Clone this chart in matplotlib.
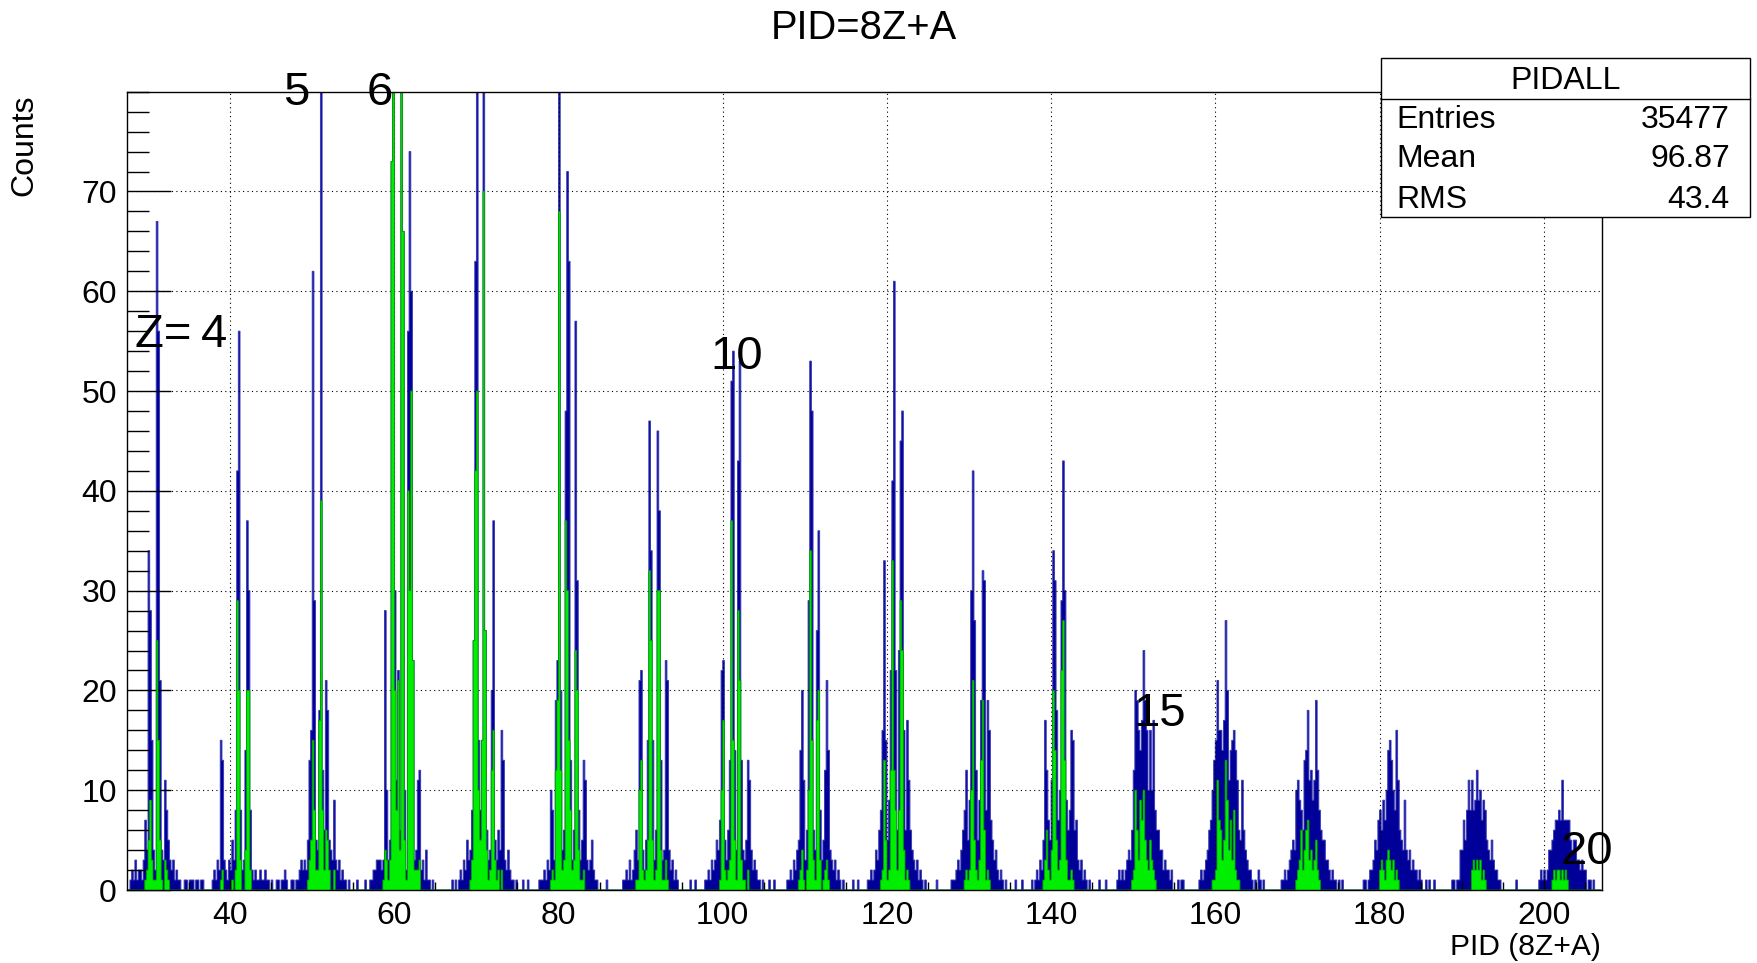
import numpy as np
import matplotlib
matplotlib.use("Agg")
import matplotlib.pyplot as plt
from matplotlib.patches import Rectangle
from matplotlib.ticker import MultipleLocator, FixedLocator

plt.rcParams['font.family'] = ['Liberation Sans', 'DejaVu Sans']

# ---------------------------------------------------------------------------
# PID spectrum, 0.2-wide bins. Each block covers one element band (Z) and
# starts at the given left bin edge. "blue" = all events, "green" = gated.
# ---------------------------------------------------------------------------
BIN_WIDTH = 0.2

z03_start = 27.4
z03_blue = [0, 0, 1, 2, 1, 3, 1, 2, 2, 1, 3, 7, 4, 34, 28, 15, 4, 2, 67, 56,
            21, 4, 3, 11, 8, 5, 3, 2, 3, 1, 2, 1, 1, 0, 0, 1, 1, 0, 1, 1]
z03_green = [0, 0, 0, 0, 0, 0, 0, 0, 0, 0, 0, 1, 2, 5, 9, 3, 1, 1, 25, 15,
             5, 1, 0, 3, 2, 1, 0, 0, 0, 0, 0, 0, 0, 0, 0, 0, 0, 0, 0, 0]

z04_start = 35.4
z04_blue = [1, 0, 1, 1, 0, 1, 1, 0, 0, 0, 0, 0, 1, 2, 1, 3, 2, 15, 13, 3,
            2, 1, 3, 2, 5, 3, 8, 42, 56, 8, 2, 3, 14, 37, 30, 8, 2, 1, 2, 1,
            1, 2, 1, 1, 2, 1, 1, 0, 1, 0]
z04_green = [0, 0, 0, 0, 0, 0, 0, 0, 0, 0, 0, 0, 0, 0, 0, 0, 0, 1, 2, 0,
             0, 0, 0, 0, 1, 0, 2, 29, 20, 3, 0, 0, 4, 20, 20, 2, 0, 0, 0, 0,
             0, 0, 0, 0, 0, 0, 0, 0, 0, 0]

z05_start = 45.4
z05_blue = [0, 1, 1, 0, 1, 1, 2, 1, 0, 0, 1, 1, 0, 1, 1, 2, 3, 2, 3, 2,
            5, 13, 16, 62, 29, 5, 4, 18, 95, 12, 6, 21, 18, 5, 4, 3, 9, 3, 2, 3,
            1, 2, 1, 1, 0, 1, 0, 0, 0, 0]
z05_green = [0, 0, 0, 0, 0, 0, 0, 0, 0, 0, 0, 0, 0, 0, 0, 0, 0, 0, 0, 0,
             1, 3, 5, 15, 8, 2, 2, 17, 39, 8, 2, 6, 5, 2, 0, 0, 2, 0, 0, 0,
             0, 0, 0, 0, 0, 0, 0, 0, 0, 0]

z06_start = 55.4
z06_blue = [1, 0, 0, 0, 0, 1, 0, 0, 1, 1, 2, 2, 3, 3, 3, 2, 3, 28, 10, 3,
            5, 73, 95, 30, 11, 22, 6, 95, 66, 10, 2, 56, 74, 60, 23, 3, 4, 11, 12, 2,
            3, 1, 4, 1, 1, 0, 1, 0, 0, 0]
z06_green = [0, 0, 0, 0, 0, 0, 0, 0, 0, 0, 0, 0, 0, 0, 0, 0, 1, 4, 3, 1,
             3, 73, 82, 20, 8, 21, 4, 85, 66, 5, 1, 40, 30, 50, 23, 2, 2, 2, 3, 0,
             0, 0, 0, 0, 0, 0, 0, 0, 0, 0]

z07_start = 65.4
z07_blue = [0, 0, 0, 0, 0, 0, 0, 0, 1, 0, 1, 0, 1, 2, 1, 3, 2, 5, 3, 4,
            8, 25, 63, 95, 15, 8, 15, 95, 26, 6, 3, 4, 20, 37, 5, 3, 6, 4, 16, 13,
            3, 2, 4, 2, 1, 1, 0, 1, 0, 0]
z07_green = [0, 0, 0, 0, 0, 0, 0, 0, 0, 0, 0, 0, 0, 0, 0, 0, 0, 0, 0, 1,
             3, 25, 42, 50, 10, 5, 15, 70, 26, 4, 1, 2, 12, 16, 3, 1, 2, 0, 2, 0,
             0, 0, 0, 0, 0, 0, 0, 0, 0, 0]

z08_start = 75.4
z08_blue = [0, 1, 0, 0, 1, 0, 0, 0, 0, 0, 0, 1, 1, 1, 2, 1, 3, 2, 10, 8,
            3, 19, 23, 95, 20, 4, 6, 48, 72, 63, 13, 3, 6, 57, 31, 8, 3, 5, 13, 11,
            3, 2, 3, 5, 2, 1, 1, 0, 0, 0]
z08_green = [0, 0, 0, 0, 0, 0, 0, 0, 0, 0, 0, 0, 0, 0, 0, 0, 0, 0, 1, 2,
             1, 12, 19, 68, 12, 2, 3, 37, 30, 15, 8, 2, 3, 24, 20, 4, 1, 1, 2, 0,
             0, 0, 0, 0, 0, 0, 0, 0, 0, 0]

z09_start = 85.4
z09_blue = [0, 0, 1, 0, 0, 0, 0, 0, 0, 0, 0, 0, 1, 1, 2, 1, 3, 1, 2, 4,
            6, 3, 21, 22, 4, 2, 5, 15, 47, 34, 15, 3, 6, 46, 38, 13, 3, 4, 23, 21,
            4, 2, 3, 1, 2, 1, 0, 0, 0, 0]
z09_green = [0, 0, 0, 0, 0, 0, 0, 0, 0, 0, 0, 0, 0, 0, 0, 0, 0, 0, 0, 0,
             1, 1, 10, 13, 2, 1, 2, 5, 32, 25, 5, 1, 2, 30, 30, 4, 1, 1, 3, 1,
             0, 0, 0, 0, 0, 0, 0, 0, 0, 0]

z10_start = 95.4
z10_blue = [0, 0, 0, 1, 0, 0, 1, 0, 0, 0, 0, 0, 1, 1, 2, 1, 3, 2, 3, 5,
            4, 7, 22, 23, 5, 3, 6, 13, 51, 54, 14, 4, 43, 53, 13, 4, 3, 5, 13, 11,
            4, 2, 3, 2, 1, 1, 0, 1, 0, 0]
z10_green = [0, 0, 0, 0, 0, 0, 0, 0, 0, 0, 0, 0, 0, 0, 0, 0, 0, 0, 0, 0,
             0, 1, 10, 17, 2, 1, 2, 3, 37, 15, 5, 1, 28, 21, 3, 1, 1, 0, 2, 0,
             0, 0, 0, 0, 0, 0, 0, 0, 0, 0]

z11_start = 105.4
z11_blue = [0, 1, 0, 0, 1, 0, 0, 0, 0, 0, 0, 0, 1, 1, 2, 1, 3, 2, 4, 5,
            14, 20, 11, 3, 6, 29, 53, 48, 6, 4, 26, 36, 8, 3, 5, 12, 21, 14, 4, 3,
            2, 3, 1, 2, 1, 0, 1, 0, 0, 0]
z11_green = [0, 0, 0, 0, 0, 0, 0, 0, 0, 0, 0, 0, 0, 0, 0, 0, 0, 0, 0, 1,
             2, 4, 1, 0, 2, 10, 34, 15, 3, 1, 17, 20, 3, 0, 1, 2, 3, 1, 0, 0,
             0, 0, 0, 0, 0, 0, 0, 0, 0, 0]

z12_start = 115.4
z12_blue = [0, 0, 1, 0, 0, 1, 0, 0, 0, 0, 0, 1, 1, 2, 1, 2, 4, 3, 6, 8,
            16, 33, 15, 5, 9, 22, 41, 61, 22, 6, 24, 45, 48, 16, 6, 17, 11, 6, 4, 3,
            2, 3, 1, 2, 1, 0, 1, 0, 0, 0]
z12_green = [0, 0, 0, 0, 0, 0, 0, 0, 0, 0, 0, 0, 0, 0, 0, 0, 0, 0, 0, 1,
             2, 13, 5, 1, 2, 12, 33, 12, 8, 2, 8, 29, 24, 4, 1, 2, 1, 0, 0, 0,
             0, 0, 0, 0, 0, 0, 0, 0, 0, 0]

z13_start = 125.4
z13_blue = [0, 0, 0, 1, 0, 0, 0, 0, 0, 0, 0, 0, 1, 1, 1, 2, 3, 2, 4, 6,
            8, 12, 5, 9, 30, 42, 27, 12, 5, 9, 19, 32, 31, 8, 19, 16, 7, 5, 3, 4,
            2, 1, 2, 1, 0, 1, 0, 0, 0, 0]
z13_green = [0, 0, 0, 0, 0, 0, 0, 0, 0, 0, 0, 0, 0, 0, 0, 0, 0, 0, 0, 0,
             1, 2, 1, 2, 10, 21, 5, 2, 1, 3, 13, 19, 6, 1, 2, 1, 0, 0, 0, 0,
             0, 0, 0, 0, 0, 0, 0, 0, 0, 0]

z14_start = 135.4
z14_blue = [0, 1, 0, 0, 0, 1, 0, 0, 0, 0, 0, 1, 0, 1, 2, 1, 3, 2, 5, 17,
            12, 7, 5, 11, 34, 31, 18, 7, 10, 29, 43, 30, 9, 6, 8, 16, 15, 6, 7, 3,
            2, 3, 1, 2, 1, 0, 1, 0, 0, 0]
z14_green = [0, 0, 0, 0, 0, 0, 0, 0, 0, 0, 0, 0, 0, 0, 0, 0, 0, 0, 1, 3,
             6, 2, 1, 4, 20, 14, 5, 2, 3, 22, 27, 13, 3, 1, 1, 2, 1, 0, 0, 0,
             0, 0, 0, 0, 0, 0, 0, 0, 0, 0]

z15_start = 145.4
z15_blue = [0, 0, 1, 0, 0, 0, 1, 0, 0, 0, 0, 0, 0, 1, 2, 1, 2, 1, 2, 3,
            4, 3, 6, 12, 20, 19, 16, 14, 17, 24, 19, 16, 10, 16, 10, 17, 8, 6, 6, 4,
            4, 2, 3, 2, 2, 1, 2, 0, 0, 0]
z15_green = [0, 0, 0, 0, 0, 0, 0, 0, 0, 0, 0, 0, 0, 0, 0, 0, 0, 0, 0, 0,
             0, 0, 1, 2, 10, 6, 3, 9, 7, 10, 5, 3, 2, 5, 3, 2, 1, 0, 0, 0,
             0, 0, 0, 0, 0, 0, 0, 0, 0, 0]

z16_start = 155.4
z16_blue = [1, 0, 1, 1, 0, 0, 0, 0, 0, 0, 0, 0, 0, 1, 2, 1, 2, 3, 4, 6,
            7, 10, 13, 15, 21, 16, 16, 14, 17, 27, 20, 11, 14, 15, 16, 14, 11, 6, 5, 11,
            6, 4, 3, 2, 2, 1, 0, 1, 0, 2]
z16_green = [0, 0, 0, 0, 0, 0, 0, 0, 0, 0, 0, 0, 0, 0, 0, 0, 0, 0, 0, 0,
             0, 1, 1, 2, 11, 7, 6, 3, 5, 13, 9, 4, 7, 3, 8, 2, 1, 1, 0, 0,
             0, 0, 0, 0, 0, 0, 0, 0, 0, 0]

z17_start = 165.4
z17_blue = [1, 0, 1, 0, 0, 0, 0, 0, 0, 0, 0, 0, 0, 1, 1, 2, 1, 2, 3, 4,
            5, 4, 10, 11, 9, 8, 6, 13, 14, 18, 11, 12, 9, 11, 19, 12, 8, 6, 5, 5,
            3, 3, 2, 1, 2, 1, 1, 0, 1, 0]
z17_green = [0, 0, 0, 0, 0, 0, 0, 0, 0, 0, 0, 0, 0, 0, 0, 0, 0, 0, 0, 0,
             0, 0, 1, 2, 3, 6, 2, 4, 6, 7, 3, 4, 2, 3, 5, 2, 1, 0, 0, 0,
             0, 0, 0, 0, 0, 0, 0, 0, 0, 0]

z18_start = 175.4
z18_blue = [1, 0, 0, 0, 0, 0, 0, 0, 0, 0, 0, 0, 0, 1, 1, 0, 1, 2, 2, 3,
            5, 4, 7, 8, 6, 9, 7, 10, 14, 15, 13, 10, 8, 16, 11, 6, 5, 4, 9, 4,
            3, 4, 2, 3, 2, 2, 1, 2, 1, 0]
z18_green = [0, 0, 0, 0, 0, 0, 0, 0, 0, 0, 0, 0, 0, 0, 0, 0, 0, 0, 0, 0,
             0, 0, 0, 2, 3, 2, 1, 3, 4, 3, 2, 3, 1, 2, 1, 0, 0, 0, 0, 0,
             0, 0, 0, 0, 0, 0, 0, 0, 0, 0]

z19_start = 185.4
z19_blue = [0, 1, 0, 1, 0, 0, 1, 0, 0, 0, 0, 0, 0, 0, 0, 0, 0, 1, 1, 0,
            1, 1, 4, 4, 7, 5, 8, 11, 8, 11, 8, 9, 12, 9, 10, 7, 9, 8, 5, 4,
            3, 5, 3, 2, 2, 1, 1, 0, 0, 0]
z19_green = [0, 0, 0, 0, 0, 0, 0, 0, 0, 0, 0, 0, 0, 0, 0, 0, 0, 0, 0, 0,
             0, 0, 0, 0, 0, 0, 0, 0, 0, 2, 3, 2, 3, 2, 3, 1, 2, 1, 0, 0,
             0, 0, 0, 0, 0, 0, 0, 0, 0, 0]

z20_start = 195.4
z20_blue = [0, 0, 0, 0, 0, 0, 1, 0, 0, 0, 0, 0, 0, 0, 0, 0, 0, 0, 0, 0,
            1, 2, 1, 2, 1, 2, 4, 4, 5, 6, 7, 7, 8, 7, 11, 7, 7, 7, 7, 5,
            4, 5, 5, 3, 3, 2, 3, 2, 2, 0, 1, 1, 0, 1, 0, 0, 0, 0]
z20_green = [0, 0, 0, 0, 0, 0, 0, 0, 0, 0, 0, 0, 0, 0, 0, 0, 0, 0, 0, 0,
             0, 0, 0, 0, 0, 0, 0, 0, 1, 2, 1, 2, 2, 1, 2, 1, 2, 1, 0, 0,
             0, 0, 0, 0, 0, 0, 0, 0, 0, 0, 0, 0, 0, 0, 0, 0, 0, 0]

blocks = [
    (z03_start, z03_blue, z03_green), (z04_start, z04_blue, z04_green),
    (z05_start, z05_blue, z05_green), (z06_start, z06_blue, z06_green),
    (z07_start, z07_blue, z07_green), (z08_start, z08_blue, z08_green),
    (z09_start, z09_blue, z09_green), (z10_start, z10_blue, z10_green),
    (z11_start, z11_blue, z11_green), (z12_start, z12_blue, z12_green),
    (z13_start, z13_blue, z13_green), (z14_start, z14_blue, z14_green),
    (z15_start, z15_blue, z15_green), (z16_start, z16_blue, z16_green),
    (z17_start, z17_blue, z17_green), (z18_start, z18_blue, z18_green),
    (z19_start, z19_blue, z19_green), (z20_start, z20_blue, z20_green),
]

# Element labels (left / baseline anchored, data coordinates)
z_labels = ["Z=\u20094", "5", "6", "10", "15", "20"]
z_label_x = [28.4, 46.5, 56.6, 98.5, 150.0, 202.1]
z_label_y = [54.4, 78.7, 78.7, 52.2, 16.4, 2.6]

# Statistics box contents
stat_title = "PIDALL"
stat_names = ["Entries", "Mean", "RMS"]
stat_values = ["35477", "96.87", "43.4"]

x_range = (27.4, 207.1)
y_range = (0, 80)
y_major_ticks = [0, 10, 20, 30, 40, 50, 60, 70]

# ---------------------------------------------------------------------------
left_edges = []
blue_counts = []
green_counts = []
for start, b, g in blocks:
    left_edges.append(start + BIN_WIDTH * np.arange(len(b)))
    blue_counts.extend(b)
    green_counts.extend(g)
edges = np.concatenate(left_edges)
edges = np.append(edges, edges[-1] + BIN_WIDTH)
blue_counts = np.array(blue_counts, dtype=float)
green_counts = np.array(green_counts, dtype=float)

W, H = 1758, 963
fig = plt.figure(figsize=(W / 100, H / 100), dpi=100)
ax_left, ax_right, ax_top, ax_bottom = 126.7, 1602.0, 91.7, 890.0
ax = fig.add_axes([ax_left / W, 1 - ax_bottom / H,
                   (ax_right - ax_left) / W, (ax_bottom - ax_top) / H])

ax.stairs(blue_counts, edges, fill=True, color='#000099', zorder=2)
ax.stairs(blue_counts, edges, color='#3a3ab4', linewidth=0.7, zorder=2.1)
ax.stairs(green_counts, edges, fill=True, color='#00ee00', zorder=3)
ax.stairs(green_counts, edges, color='#00a000', linewidth=0.6, zorder=3.1)

ax.set_xlim(*x_range)
ax.set_ylim(*y_range)

ax.xaxis.set_major_locator(MultipleLocator(20))
ax.xaxis.set_minor_locator(MultipleLocator(5))
ax.yaxis.set_major_locator(FixedLocator(y_major_ticks))
ax.yaxis.set_minor_locator(MultipleLocator(2))

ax.grid(True, which='major', color='black', linestyle=(0, (1, 3)),
        linewidth=0.8, zorder=2.5)
ax.set_axisbelow(False)

ax.tick_params(axis='x', which='major', direction='in', length=8, width=1,
               labelsize=23, pad=8, top=False)
ax.tick_params(axis='x', which='minor', direction='in', length=6, width=1,
               top=False)
ax.tick_params(axis='y', which='major', direction='in', length=32, width=1,
               labelsize=23, pad=7, right=False)
ax.tick_params(axis='y', which='minor', direction='in', length=16, width=1,
               right=False)
for sp in ax.spines.values():
    sp.set_linewidth(1.0)
    sp.set_zorder(4)

for txt, x, y in zip(z_labels, z_label_x, z_label_y):
    ax.text(x, y, txt, fontsize=34, ha='left', va='baseline', zorder=5)

fig.text(864 / W, 1 - 28 / H, "PID=8Z+A", fontsize=28.7, ha='center', va='center')
fig.text(24.7 / W, 1 - 94 / H, "Counts", fontsize=23, rotation=90,
         ha='center', va='top')
fig.text((ax_right - 1.5) / W, 1 - 947 / H, "PID (8Z+A)", fontsize=21.6,
         ha='right', va='center')

# statistics box
bx0, bx1, by0, by1 = 1381, 1750, 58.3, 217.3
fig.add_artist(Rectangle((bx0 / W, 1 - by1 / H), (bx1 - bx0) / W, (by1 - by0) / H,
                         transform=fig.transFigure, facecolor='white',
                         edgecolor='black', linewidth=1.0, zorder=10))
fig.add_artist(plt.Line2D([bx0 / W, bx1 / W], [1 - 99.3 / H, 1 - 99.3 / H],
                          transform=fig.transFigure, color='black',
                          linewidth=1.0, zorder=11))
fig.text((bx0 + bx1) / 2 / W, 1 - 80.7 / H, stat_title, fontsize=23,
         ha='center', va='center', zorder=12)
row_y = [120.0, 159.2, 199.6]
for name, val, ry in zip(stat_names, stat_values, row_y):
    fig.text(1396 / W, 1 - ry / H, name, fontsize=23, ha='left', va='center',
             zorder=12)
    fig.text(1730 / W, 1 - ry / H, val, fontsize=23, ha='right', va='center',
             zorder=12)

fig.savefig("out.png", dpi=100)
